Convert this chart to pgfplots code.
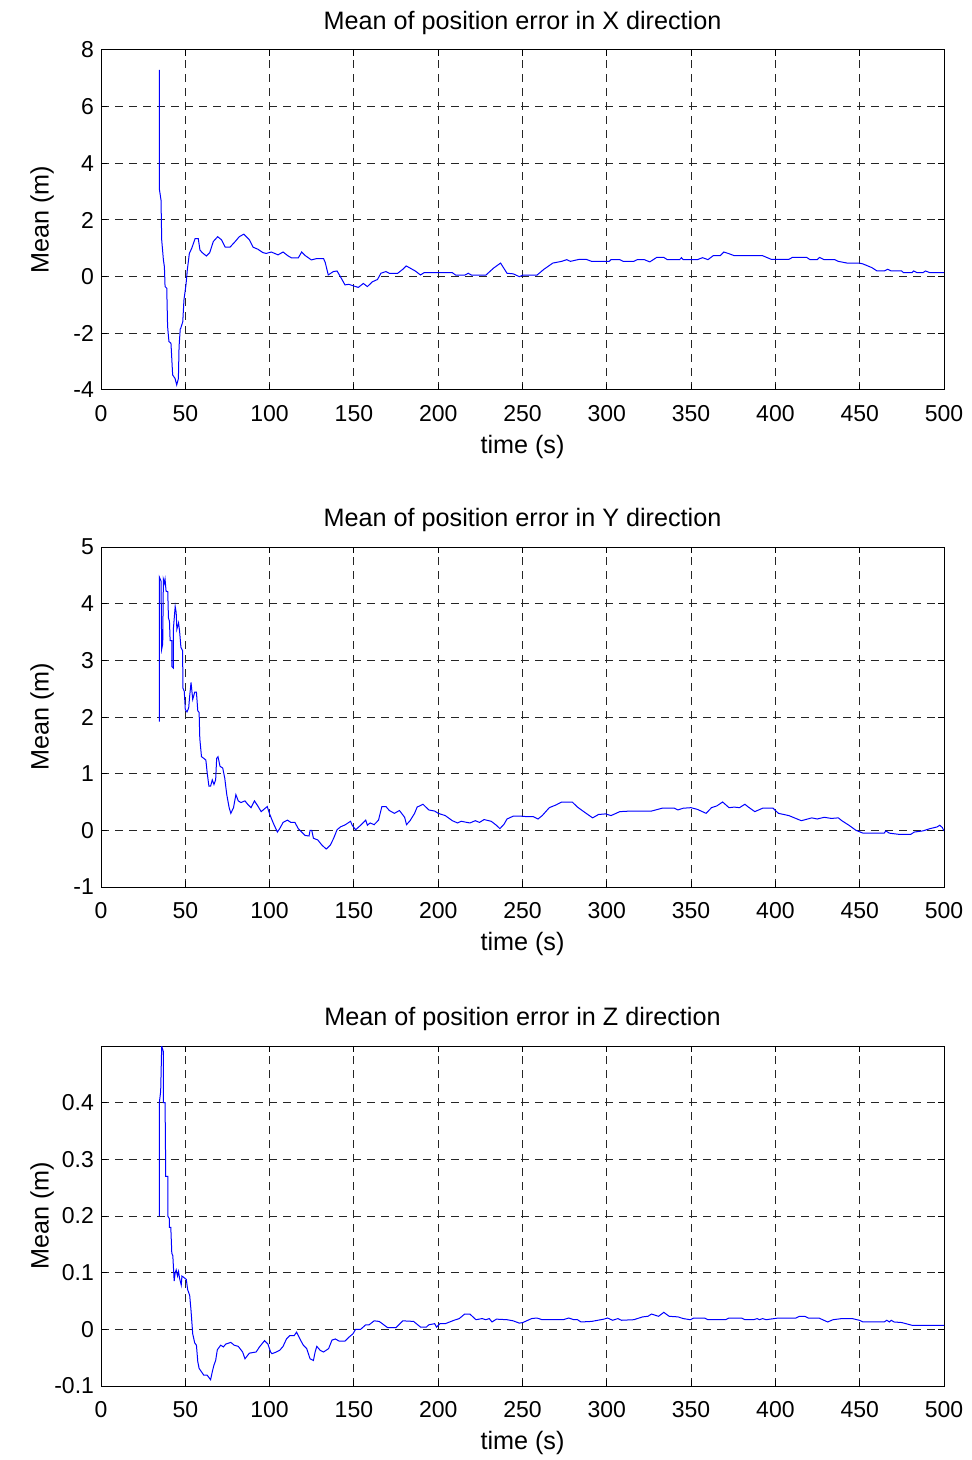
\documentclass[border=0pt]{standalone}
\usepackage{fontspec}
\setmainfont{Liberation Sans}
\usepackage{pgfplots}
\pgfplotsset{compat=1.18}

\pgfplotsset{
  matlab/.style={
    scale only axis,
    width=421.5pt, height=170pt,
    xmin=0, xmax=500,
    xtick={0,50,...,500},
    grid=major,
    major grid style={black!85, line width=0.5pt, dash pattern=on 4pt off 3pt},
    axis line style={line width=0.5pt},
    tick align=inside,
    major tick length=3pt,
    tick style={black, line width=0.5pt},
    /pgf/number format/assume math mode=true,
    tick label style={font=\fontsize{11.5}{14}\selectfont},
    xticklabel style={yshift=-4pt},
    label style={font=\fontsize{12.6}{15}\selectfont},
    title style={font=\fontsize{12.6}{15}\selectfont,
      at={(axis description cs:0.5,1)}, anchor=center, yshift=7.5pt},
    xlabel style={at={(axis description cs:0.5,0)}, anchor=center, yshift=-28.5pt},
    ylabel style={at={(axis description cs:0,0.5)}, anchor=center, yshift=29.5pt},
    xlabel={time (s)},
    ylabel={Mean (m)},
  },
}

\pgfplotstableread{
t v
34.6 7.3
34.6 4.6
34.6 3.1
35.6 2.7
36.0 1.3
37.0 0.6
37.6 0.35
38.0 -0.35
39.0 -0.41
39.5 -1.76
40.3 -2.29
41.5 -2.35
42.5 -3.47
43.9 -3.59
44.9 -3.82
45.9 -3.6
46.3 -2.47
47.0 -1.85
47.3 -1.82
48.5 -1.59
49.2 -0.82
50.4 -0.29
51.2 0.24
52.4 0.82
53.8 1.0
55.8 1.34
57.7 1.34
58.7 0.94
60 0.85
62.5 0.73
64.5 0.85
66.6 1.24
69.2 1.41
71.5 1.3
73.7 1.04
76.5 1.04
79.6 1.24
82 1.41
84.7 1.5
88 1.3
90.2 1.04
93 0.97
96 0.85
98 0.82
101 0.87
103 0.82
105 0.77
108 0.87
111 0.73
113.1 0.66
117 0.66
119 0.87
121 0.75
124.8 0.59
128 0.64
132 0.64
133 0.5
134.8 0.06
137.8 0.18
140 0.2
142 0.0
144.7 -0.29
147 -0.27
150 -0.33
152.6 -0.38
155.6 -0.24
158 -0.35
161 -0.18
164 -0.1
166 0.12
169 0.18
171 0.12
176 0.12
179 0.26
181 0.38
186.4 0.2
189.5 0.06
191.6 0.14
208.4 0.14
210.5 0.05
215.7 0.05
217.8 0.12
219.9 0.05
228.2 0.05
232.8 0.3
237 0.48
240.8 0.12
244.5 0.1
248.1 0
250.2 0.05
258.5 0.05
262.7 0.26
268 0.48
273.2 0.54
276.3 0.6
278.4 0.54
283.6 0.61
287.8 0.61
291 0.54
301.4 0.54
302.5 0.6
307.7 0.6
309.8 0.54
316 0.54
318.1 0.6
322.3 0.6
325.5 0.52
329.6 0.68
333.8 0.68
335.9 0.6
343.2 0.6
344.3 0.67
345.3 0.6
353.7 0.6
356.8 0.67
360 0.6
363.1 0.74
367.3 0.74
369.4 0.87
372.5 0.81
375.6 0.74
392.4 0.74
397.6 0.61
408 0.61
410.1 0.68
418.5 0.68
420.6 0.6
424.8 0.6
426.2 0.68
428.9 0.6
435.2 0.6
437.3 0.54
442.5 0.48
449.8 0.48
451.9 0.45
457.2 0.32
460.3 0.2
464.5 0.2
466.6 0.26
468.7 0.2
474.9 0.2
476 0.14
481 0.14
482 0.2
484 0.14
487.5 0.14
489 0.2
491.7 0.14
500 0.14
}\dataX

\pgfplotstableread{
t v
34.6 1.92
34.6 4.47
35.6 4.4
36.0 3.2
36.6 3.29
37.0 4.43
37.6 4.36
38.0 4.43
38.6 4.22
39.6 4.21
40.0 3.75
40.6 3.69
41.0 3.35
42.0 3.35
42.0 2.89
43.0 2.86
43.0 3.58
44.0 3.95
44.6 3.84
45.0 3.55
46.0 3.66
46.6 3.52
47.4 3.23
48.4 3.17
48.6 2.51
49.4 2.45
50.0 2.13
51.0 2.09
52.0 2.16
52.6 2.37
53.4 2.61
54.4 2.31
55.6 2.44
56.6 2.44
57.4 2.11
58.2 2.08
58.6 1.62
59.6 1.3
61.0 1.27
62.2 1.24
63.0 1.01
64.0 0.78
65.0 0.78
66.0 0.89
67.0 0.81
68.0 0.89
68.6 1.27
69.4 1.3
70.6 1.13
72.2 1.1
73.4 0.92
74.6 0.63
76.0 0.4
77.0 0.3
78.6 0.4
80.0 0.63
81.4 0.52
83.0 0.49
85.4 0.52
87.0 0.46
89.0 0.4
91.0 0.52
93.0 0.43
95.0 0.33
97.0 0.38
98.6 0.42
100.0 0.29
102.0 0.14
104.6 -0.03
106.0 0.03
108.0 0.14
110.6 0.18
112.6 0.14
115.0 0.14
117.0 0.03
121.0 -0.09
123.4 -0.1
124.0 0
125.0 0
126.0 -0.14
128.6 -0.17
131.0 -0.26
133.6 -0.33
136.0 -0.26
138.0 -0.14
140.0 0.01
142.0 0.06
145.0 0.1
148.0 0.16
149.0 0.09
151.0 0.01
154.0 0.09
157.0 0.18
158.0 0.09
159.6 0.13
162.0 0.1
164.6 0.18
166.6 0.42
169.0 0.42
171.0 0.35
174.0 0.3
177.0 0.35
180.1 0.23
181.2 0.1
183.3 0.17
186 0.3
187.5 0.41
191 0.46
194.4 0.36
197.9 0.34
200 0.3
204.2 0.26
208.4 0.17
211.5 0.13
213.6 0.16
218.8 0.13
222 0.17
224.5 0.14
227.2 0.19
231.4 0.16
234.5 0.09
236.6 0.03
239.1 0.11
240.8 0.2
244.5 0.25
249.1 0.25
253.3 0.24
256.5 0.24
259.2 0.2
261.7 0.26
265.9 0.4
270 0.45
273.2 0.5
279.5 0.5
282.6 0.41
286.8 0.32
291.6 0.22
295.1 0.28
299.3 0.29
302.5 0.26
307.7 0.33
314 0.34
326.5 0.34
332.8 0.39
340.1 0.39
342.2 0.36
345.3 0.39
349.9 0.4
353.7 0.37
358.9 0.3
362.1 0.4
365.2 0.43
368.7 0.5
372.5 0.4
375.6 0.41
378.7 0.4
381.9 0.46
384 0.41
387.8 0.33
392.4 0.39
398.6 0.39
401.8 0.3
408 0.26
415.4 0.17
421.6 0.22
424.8 0.2
429 0.23
433.2 0.21
437.3 0.22
439.4 0.17
443.6 0.09
447.8 0
452 -0.05
464.5 -0.05
465.5 -0.01
467.6 -0.05
473 -0.07
480.3 -0.07
482.4 -0.03
487.5 -0.01
491.7 0.03
495.9 0.06
497.5 0.09
499 0.05
500 -0.01
}\dataY

\pgfplotstableread{
t v
34.6 0.2
34.6 0.4
35.4 0.42
36.0 0.5
37.0 0.49
37.0 0.4
38.0 0.4
38.4 0.27
39.6 0.27
39.6 0.2
40.6 0.195
40.6 0.18
41.4 0.18
42.0 0.134
42.6 0.13
43.4 0.085
44.0 0.1
44.6 0.105
45.4 0.094
46.0 0.102
46.6 0.09
47.6 0.078
48.0 0.094
49.0 0.092
50.6 0.088
51.4 0.07
52.6 0.06
53.4 0.033
54.4 -0.008
55.6 -0.024
56.6 -0.028
57.4 -0.057
58.2 -0.069
59.6 -0.075
61.0 -0.081
63.0 -0.081
64.0 -0.085
65.0 -0.089
66.0 -0.075
67.0 -0.063
68.0 -0.055
69.0 -0.036
71.0 -0.028
72.6 -0.031
74.0 -0.026
77.0 -0.023
79.0 -0.028
81.4 -0.03
84.0 -0.04
85.4 -0.052
88.0 -0.042
92.0 -0.04
94.0 -0.031
97.0 -0.02
99.0 -0.026
100.6 -0.04
101.4 -0.043
104.0 -0.04
106.0 -0.037
108.0 -0.03
110.0 -0.017
112.0 -0.011
114.6 -0.011
116.0 -0.005
118.0 -0.017
120.0 -0.028
122.0 -0.034
124.0 -0.052
126.0 -0.055
127.0 -0.04
128.0 -0.03
130.0 -0.037
132.0 -0.04
135.0 -0.034
137.0 -0.019
139.0 -0.017
141.4 -0.021
144.6 -0.021
147.0 -0.014
149.4 -0.008
151.0 0
154.0 0
157.0 0.008
159.0 0.008
162.0 0.015
165.0 0.014
170.0 0.003
175.0 0.003
179.0 0.015
185.4 0.014
189.5 0.004
193 0.004
194.4 0.008
197.9 0.01
199 0.004
201 0.01
204.2 0.01
209.4 0.016
212.5 0.019
215.7 0.027
218.8 0.027
222.4 0.017
226.1 0.019
228.2 0.017
230.3 0.019
231.9 0.013
234.5 0.018
240.8 0.017
244.5 0.015
248.1 0.011
250.2 0.012
255.4 0.019
258.5 0.02
261.7 0.017
274.2 0.017
277.4 0.02
280.5 0.017
282.6 0.017
284.7 0.013
291 0.014
298.3 0.018
300.4 0.02
303.5 0.016
306.6 0.019
308.7 0.016
316 0.017
321.3 0.022
324.4 0.023
326.5 0.027
328.6 0.025
330.7 0.023
333.8 0.03
337 0.023
342.2 0.022
345.3 0.019
349.5 0.017
351.6 0.02
357.9 0.02
360 0.017
370.5 0.017
372.5 0.02
379.9 0.02
381.9 0.017
387.1 0.017
389.2 0.019
390.6 0.017
392.4 0.019
394.5 0.017
401.8 0.02
412.2 0.02
414.3 0.023
417.4 0.023
419.5 0.02
425.8 0.02
431 0.013
434.2 0.017
439.4 0.019
445.6 0.019
449.8 0.016
452 0.013
464.5 0.013
466.1 0.016
467.6 0.013
468.7 0.016
470.4 0.013
474.9 0.012
481.2 0.007
500 0.007
}\dataZ

\begin{document}
\begin{tikzpicture}
\path[use as bounding box] (0,0) rectangle (486pt,-730pt);

\begin{axis}[matlab, at={(50.5pt,-25pt)}, anchor=north west,
  ymin=-4, ymax=8, ytick={-4,-2,...,8},
  title={Mean of position error in X direction}]
\addplot[blue, line width=0.5pt, no marks] table[x=t, y=v] {\dataX};
\end{axis}

\begin{axis}[matlab, at={(50.5pt,-273.5pt)}, anchor=north west,
  ymin=-1, ymax=5, ytick={-1,0,...,5},
  title={Mean of position error in Y direction}]
\addplot[blue, line width=0.5pt, no marks] table[x=t, y=v] {\dataY};
\end{axis}

\begin{axis}[matlab, at={(50.5pt,-523pt)}, anchor=north west,
  ymin=-0.1, ymax=0.5, ytick={-0.1,0,0.1,0.2,0.3,0.4},
  yticklabel style={/pgf/number format/fixed, /pgf/number format/precision=1},
  title={Mean of position error in Z direction}]
\addplot[blue, line width=0.5pt, no marks] table[x=t, y=v] {\dataZ};
\end{axis}
\end{tikzpicture}
\end{document}
